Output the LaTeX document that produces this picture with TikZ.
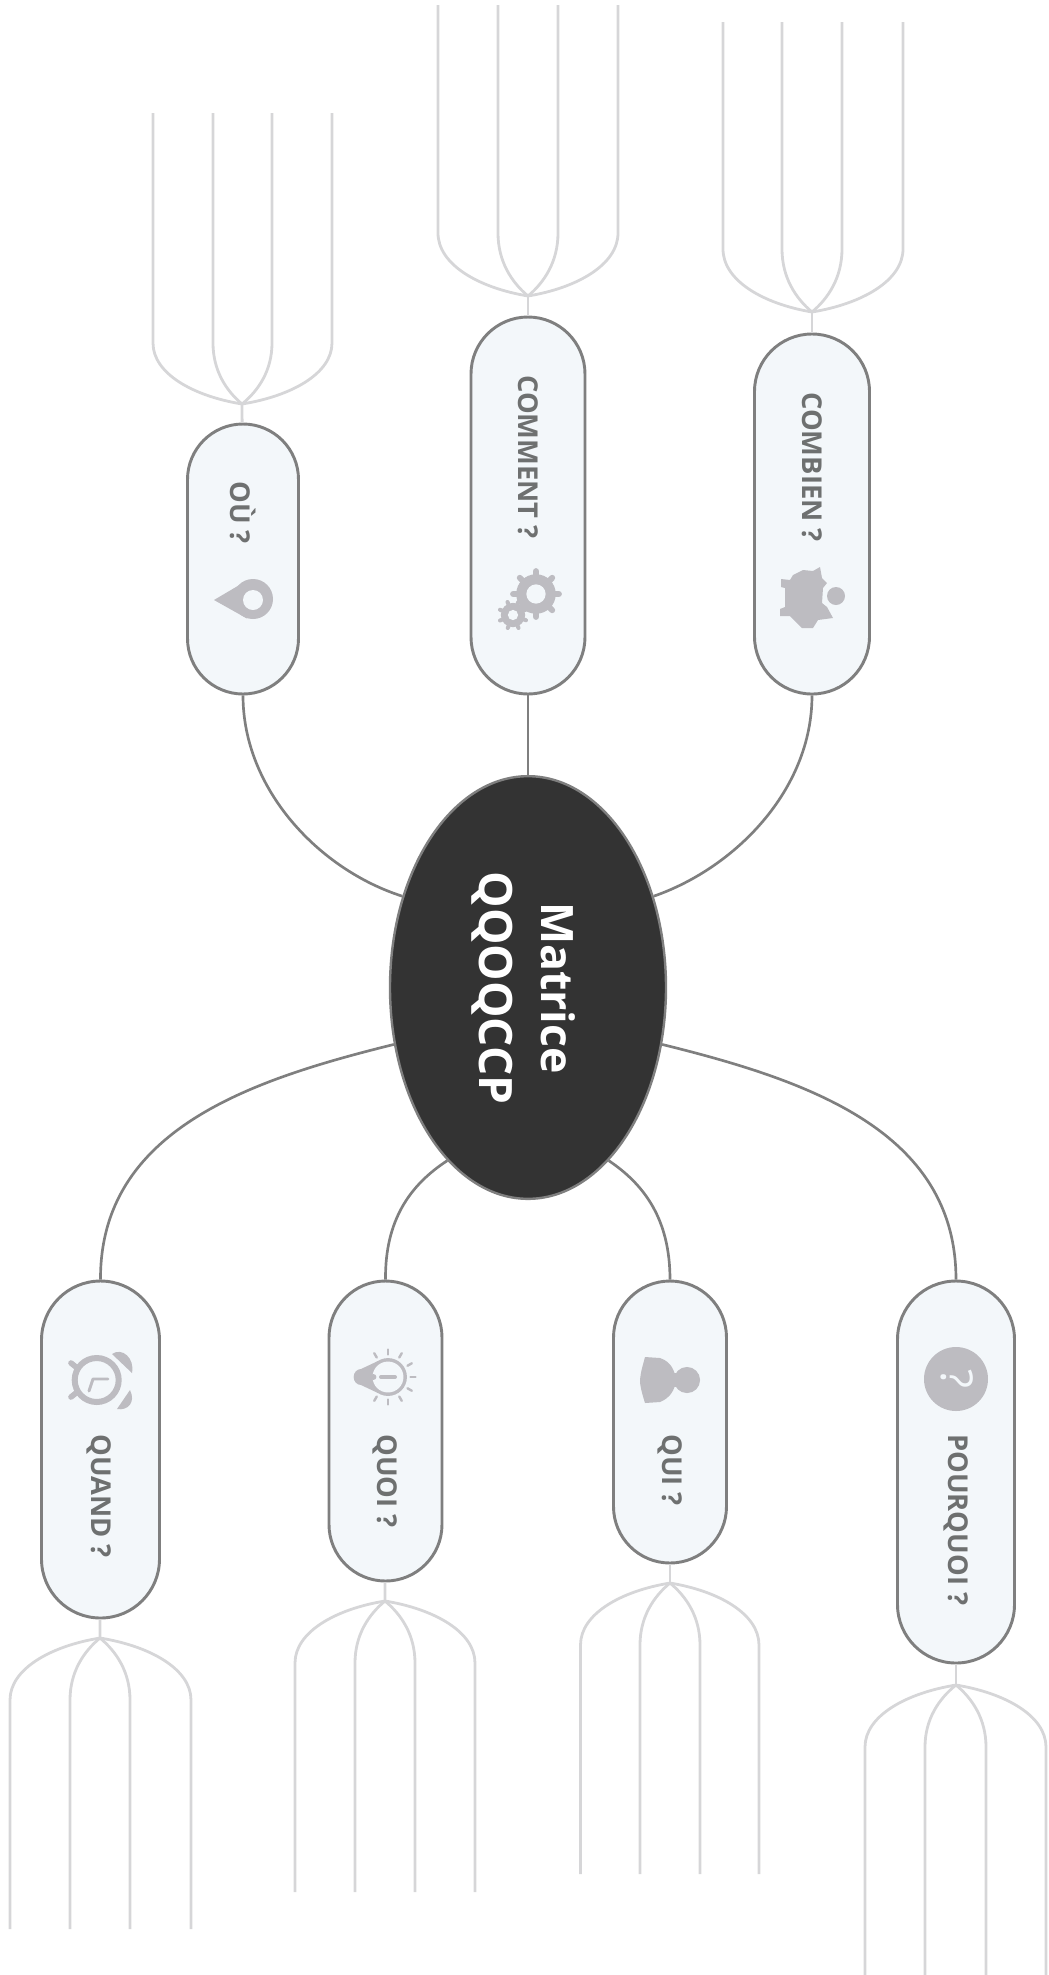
\documentclass[tikz,border=0pt]{standalone}
\usepackage{fontspec}
\setmainfont{Open Sans}
\usetikzlibrary{shapes.geometric}
\definecolor{edgec}{HTML}{7F7F7F}
\definecolor{leafc}{HTML}{D6D6D8}
\definecolor{pillf}{HTML}{F3F7FA}
\definecolor{textc}{HTML}{6E7070}
\definecolor{iconc}{HTML}{BDBCC1}
\tikzset{
  pillbox/.style={draw=edgec,fill=pillf,line width=2.2pt,inner sep=0pt,rectangle},
  main/.style={draw=edgec,line width=1.8pt,ellipse,fill=black!80,inner sep=0pt,minimum width=207pt,minimum height=317pt},
  link/.style={draw=edgec,line width=2pt},
  leaf/.style={draw=leafc,line width=2.1pt},
  lab/.style={rotate=-90,anchor=west,inner sep=0pt,text=textc,font=\fontsize{20.5}{24}\selectfont\bfseries},
  icon/.style={fill=iconc,draw=none},
  iconl/.style={draw=iconc,line cap=round},
  hole/.style={fill=pillf,draw=none}
}
\newcommand\pillnode[5]{%
  \pgfmathsetmacro\pcy{(#3+#4)/2}%
  \pgfmathsetmacro\pw{#5*0.75}%
  \pgfmathsetmacro\ph{(#4-#3)*0.75}%
  \pgfmathsetmacro\pr{#5*0.375}%
  \node[pillbox,minimum width=\pw pt,minimum height=\ph pt,rounded corners=\pr pt] (#1) at (#2,\pcy) {};}
% name (of the parent pill), cx, jy, x1..x4, curve end y, tip y
\newcommand\fan[9]{%
  \coordinate (#1-j) at (#2,#3);
  \foreach \k/\xx/\fa/\fb/\fc in {1/#4/0.55/0.13/0.5,2/#5/0.55/0.22/0.55,3/#6/0.55/0.22/0.55,4/#7/0.55/0.13/0.5}{
    \coordinate (#1-t\k) at (\xx,#9);
    \pgfmathsetmacro\cax{#2+\fa*(\xx-#2)}
    \pgfmathsetmacro\cay{#3+\fb*(#8-#3)}
    \pgfmathsetmacro\cby{#3+\fc*(#8-#3)}
    \draw[leaf] (#1-j) .. controls (\cax,\cay) and (\xx,\cby) .. (\xx,#8) -- (#1-t\k);
  }
  \draw[leaf] (#1-j) -- (#1);}
% cx cy r tooth-width hole-ratio phase
\newcommand\gear[6]{%
  \foreach \a in {0,45,...,315}{
    \draw[iconc,line width=#4,line cap=round] ({#1+0.6*#3*cos(\a+#6)},{#2+0.6*#3*sin(\a+#6)}) -- ({#1+0.88*#3*cos(\a+#6)},{#2+0.88*#3*sin(\a+#6)});}
  \fill[icon] (#1,#2) circle ({0.76*#3*0.75pt});
  \fill[hole] (#1,#2) circle ({#5*#3*0.75pt});}
\begin{document}
\begin{tikzpicture}[x=0.75pt,y=-0.75pt]
\useasboundingbox (0,0) rectangle (1049,1975);
% nodes
\pillnode{ou}{243}{424}{694}{111}
\pillnode{comment}{528}{317}{694}{114}
\pillnode{combien}{812}{334}{694}{115}
\pillnode{quand}{100.5}{1281}{1618}{118}
\pillnode{quoi}{385.5}{1281}{1581}{113}
\pillnode{qui}{670}{1281}{1563}{113}
\pillnode{pourquoi}{956}{1281}{1663}{117}
% leaves
\fan{ou}{242}{404}{153}{213}{272}{332}{343}{113}
\fan{comment}{528}{296}{438}{498}{558}{618}{233}{5}
\fan{combien}{812}{312}{723}{782}{842}{903}{249}{22}
\fan{quand}{100}{1638}{10}{70}{130}{191}{1700}{1929}
\fan{quoi}{385}{1601}{295}{355}{415}{475}{1663}{1892}
\fan{qui}{670}{1583}{580.5}{640}{700}{759}{1645}{1874}
\fan{pourquoi}{956}{1685}{865}{925}{986}{1046}{1747}{1975}
% centre
\coordinate (cc) at (528,987.5);
\node[main] (hub) at (cc) {};
% connectors
\draw[link] (ou.south) .. controls (243,790) and (320,870) .. (hub.144);
\draw[link] (comment.south) -- (hub.north);
\draw[link] (combien.south) .. controls (812,790) and (735,868) .. (hub.36);
\draw[link] (quand.north) .. controls (100,1130) and (250,1080) .. (hub.203);
\draw[link] (pourquoi.north) .. controls (956,1130) and (806,1080) .. (hub.337);
\draw[link] (quoi.north) .. controls (385,1220) and (410,1185) .. (hub.245);
\draw[link] (qui.north) .. controls (670,1220) and (645,1185) .. (hub.295);
% centre text
\node[rotate=-90,inner sep=0pt,text=white,align=center,font=\fontsize{33.5}{46.5}\selectfont\bfseries] (hubtxt) at (523.5,988) {Matrice\\{\fontsize{34.5}{46.5}\selectfont QQOQCCP}};
% labels
\node[lab] (tou) at (243,481) {OÙ ?};
\node[lab] (tcomment) at (528,375) {COMMENT ?};
\node[lab] (tcombien) at (812,392) {COMBIEN ?};
\node[lab] (tquand) at (99,1434) {QUAND ?};
\node[lab] (tquoi) at (385,1434) {QUOI ?};
\node[lab] (tqui) at (670,1434) {QUI ?};
\node[lab] (tpourquoi) at (956,1434) {POURQUOI ?};
% pin
\fill[icon] (214,600) -- (247,580.5) -- (247,618.5) -- cycle;
\fill[icon] (253,599) circle (15pt);
\fill[hole] (253,600) circle (7.5pt);
% gears
\gear{536}{594}{26}{4.5pt}{0.37}{0}
\gear{513}{615}{16}{3pt}{0.32}{22}
% pig
\fill[icon] (781,579) -- (781,587) -- (785,588) -- (785,607) -- (780,609) -- (780,616) -- (790,616) -- (802,628) -- (813,628) -- (818,620) -- (833,618) -- (827,607) -- (822,603) -- (823,588) -- (827,583) -- (822,578) -- (820,567) -- (813,571) -- (803,570) -- (793,575) -- (790,580) -- cycle;
\fill[icon] (836,596) circle (6.75pt);
% clock
\draw[iconc,line width=4.2pt,line cap=round] (76,1367) -- (71,1363) (76,1393) -- (71,1397);
\fill[icon] (112,1354) .. controls (122,1347) and (135,1358) .. (132,1373) -- cycle;
\fill[icon] (130,1390) .. controls (136,1402) and (128,1411) .. (117,1409) -- cycle;
\draw[iconc,line width=4.5pt,fill=pillf] (96.7,1380) circle (16.5pt);
\draw[iconc,line width=2.2pt,line cap=round,line join=round] (108,1379) -- (93,1379) -- (89,1391);
% bulb
\fill[icon] (361,1377) ellipse [x radius=5.5pt,y radius=6pt];
\fill[icon] (361,1369) -- (378,1361) -- (378,1393) -- (361,1385) -- cycle;
\fill[icon] (388,1377) circle (14.2pt);
\fill[hole] (388,1377) circle (11.6pt);
\draw[iconc,line width=3pt,line cap=round] (381,1377) -- (395,1377);
\fill[icon] (373.5,1377) circle (2.2pt);
\foreach \a in {-120,-90,-60,-30,0,30,60,90,120}{
  \draw[iconl,line width=1.8pt] ({388+22.5*cos(\a)},{1377+22.5*sin(\a)}) -- ({388+27.5*cos(\a)},{1377+27.5*sin(\a)});}
% person
\fill[icon] (645,1357) -- (660,1358) .. controls (672,1362) and (675,1372) .. (676,1380) .. controls (675,1390) and (670,1398) .. (660,1402) -- (645,1403) .. controls (641,1390) and (640,1385) .. (640,1380) .. controls (641,1370) and (643,1365) .. (645,1357) -- cycle;
\fill[icon] (670,1373) rectangle (682,1387);
\fill[icon] (687,1380) circle (9.8pt);
% question
\fill[icon] (956,1379) circle (24pt);
\node[rotate=-90,inner sep=0pt,text=pillf,font=\fontsize{33}{36}\selectfont] (qm) at (957,1379) {?};
\end{tikzpicture}
\end{document}
